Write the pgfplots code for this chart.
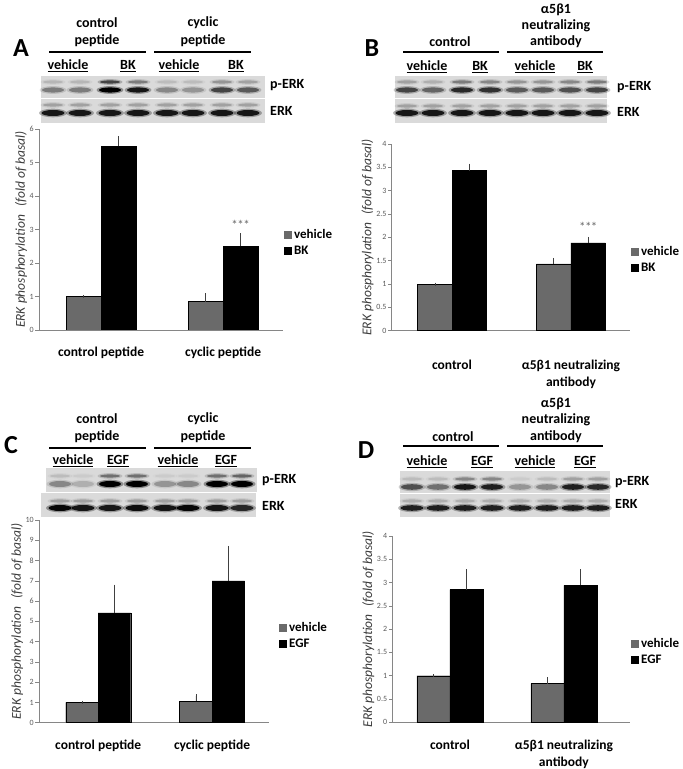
\documentclass[border=0pt]{standalone}
\usepackage{fontspec}
\setmainfont{Carlito}
\usepackage{pgfplots}
\pgfplotsset{compat=1.18}
\definecolor{vehgray}{RGB}{106,106,106}
\definecolor{axgray}{RGB}{134,134,134}
\definecolor{tickgray}{RGB}{90,90,90}
\definecolor{blotbg}{RGB}{218,218,218}
\definecolor{labgray}{RGB}{60,60,60}
\newcommand{\fs}[1]{\fontsize{#1}{#1}\selectfont}

\newcommand{\band}[5]{%
  \pgfmathsetmacro\bandA{0.35*#5}%
  \pgfmathsetmacro\rxo{#3+2.5}%
  \pgfmathsetmacro\ryo{#4+1.3}%
  \fill[black,opacity=\bandA] (#1,769-#2) ellipse (\rxo pt and \ryo pt);
  \fill[black,opacity=#5] (#1,769-#2) ellipse (#3pt and #4pt);}

\pgfplotsset{
  erk/.style={
    scale only axis, anchor=south west,
    axis x line=bottom, axis y line=left,
    axis line style={-, draw=axgray, line width=0.8pt},
    tick align=outside, major tick length=3.5pt,
    ytick style={draw=axgray, line width=0.6pt},
    xtick={0,1}, xtick style={draw=none},
    /pgf/number format/assume math mode=true,
    yticklabel style={font=\fs{8}, text=tickgray, inner sep=1.5pt},
    xticklabel style={font=\fontsize{13.5}{17}\selectfont\bfseries, align=center},
    ylabel={ERK phosphorylation\hspace{0.6em}(fold of basal)},
    ylabel style={font=\fs{13.5}\itshape, text=labgray, inner sep=1pt},
    ybar=0pt,
    legend cell align=left,
    legend style={draw=none, fill=none, font=\fs{13}\bfseries, anchor=west,
      row sep=2pt, inner sep=0pt, nodes={inner sep=2pt}},
    legend image code/.code={\path[#1,draw=none] (0pt,-4pt) rectangle (8pt,4pt);},
    error bars/y dir=plus, error bars/y explicit,
    error bars/error bar style={draw=black!75, line width=0.5pt},
    error bars/error mark options={draw=black!75, line width=0.5pt, mark size=1.5pt},
  },
  veh/.style={fill=vehgray, draw=black, line width=0.4pt},
  stim/.style={fill=black, draw=black, line width=0.4pt},
}

\begin{document}
\begin{tikzpicture}[x=1pt,y=1pt]
\useasboundingbox (0,0) rectangle (683,769);

%% ================= Panel A =================
\node[font=\fs{26}\bfseries] at (21,769-48) {A};
\begin{scope}[font=\fs{14}\bfseries]
\node at (97,769-23) {control};
\node at (97,769-40.5) {peptide};
\node at (203,769-23) {cyclic};
\node at (203,769-40.5) {peptide};
\draw[line width=2pt] (49,769-52.3) -- (146,769-52.3);
\draw[line width=2pt] (154,769-52.3) -- (251,769-52.3);
\node at (68,769-66) {\underline{vehicle}};
\node at (128,769-66) {\underline{BK}};
\node at (179,769-66) {\underline{vehicle}};
\node at (236,769-66) {\underline{BK}};
\node[anchor=west,inner sep=0] at (270,769-85) {p-ERK};
\node[anchor=west,inner sep=0] at (270,769-111) {ERK};
\end{scope}
\fill[blotbg] (41,769-76) rectangle (265,769-98.5);
\fill[blotbg] (41,769-99.5) rectangle (265,769-123);
\foreach \x/\a/\b in {53/0.35/0.12, 80/0.35/0.12, 110/1/0.6, 138/0.85/0.35, 167/0.3/0.1, 193/0.25/0.1, 222/0.6/0.25, 248/0.5/0.2}{
  \band{\x}{90}{11}{2.6}{\a}
  \band{\x}{82}{10}{1.6}{\b}
}
\foreach \x in {53,80,110,138,167,193,222,248}{
  \band{\x}{113}{11.5}{3}{0.85}
  \band{\x}{105}{10}{1.6}{0.2}
}
\begin{axis}[erk, at={(39pt,439pt)}, width=244pt, height=200.7pt,
  xmin=-0.508, xmax=1.49, ymin=0, ymax=6, ytick={0,1,...,6},
  bar width=35pt, xticklabels={control peptide, cyclic peptide},
  xticklabel style={yshift=-10pt},
  legend style={at={(1.004,0.433)}}]
\addplot[veh] coordinates {(0,1) +- (0,0) (1,0.85) +- (0,0.21)};
\addplot[stim] coordinates {(0,5.5) +- (0,0.24) (1,2.5) +- (0,0.35)};
\legend{vehicle, BK}
\node[font=\fs{13}, text=black!60] at (axis cs:1.143,3.13) {*\kern-0.5pt*\kern-0.5pt*};
\end{axis}

%% ================= Panel B =================
\node[font=\fs{26}\bfseries] at (372,769-48) {B};
\begin{scope}[font=\fs{14}\bfseries]
\node at (450,769-41.7) {control};
\node at (556,769-10) {α5β1};
\node at (556,769-25.5) {neutralizing};
\node at (556,769-41.7) {antibody};
\draw[line width=2pt] (403,769-52.3) -- (499,769-52.3);
\draw[line width=2pt] (507,769-52.3) -- (603,769-52.3);
\node at (427,769-67) {\underline{vehicle}};
\node at (480,769-67) {\underline{BK}};
\node at (535,769-67) {\underline{vehicle}};
\node at (585,769-67) {\underline{BK}};
\node[anchor=west,inner sep=0] at (617,769-87) {p-ERK};
\node[anchor=west,inner sep=0] at (617,769-112) {ERK};
\end{scope}
\fill[blotbg] (395,769-76) rectangle (607,769-98.5);
\fill[blotbg] (395,769-99.5) rectangle (607,769-123);
\foreach \x/\a/\b in {407/0.6/0.2, 433/0.45/0.15, 462/0.75/0.35, 490/0.7/0.3, 517/0.5/0.25, 543/0.5/0.25, 570/0.55/0.3, 597/0.6/0.35}{
  \band{\x}{90}{11}{2.6}{\a}
  \band{\x}{82}{10}{1.6}{\b}
}
\foreach \x in {407,433,462,490,517,543,570,597}{
  \band{\x}{113}{11.5}{3}{0.85}
  \band{\x}{106}{10}{1.6}{0.2}
}
\begin{axis}[erk, at={(391.7pt,438.3pt)}, width=238.3pt, height=186.7pt,
  xmin=-0.507, xmax=1.496, ymin=0, ymax=4, ytick={0,0.5,...,4},
  bar width=34.5pt, xticklabels={control, {α5β1 neutralizing\\antibody}},
  xticklabel style={yshift=-22pt},
  legend style={at={(1.004,0.379)}}]
\addplot[veh] coordinates {(0,1) +- (0,0) (1,1.43) +- (0,0.1)};
\addplot[stim] coordinates {(0,3.43) +- (0,0.12) (1,1.88) +- (0,0.1)};
\legend{vehicle, BK}
\node[font=\fs{13}, text=black!60] at (axis cs:1.145,2.22) {*\kern-0.5pt*\kern-0.5pt*};
\end{axis}

%% ================= Panel C =================
\node[font=\fs{26}\bfseries] at (11,769-445) {C};
\begin{scope}[font=\fs{14}\bfseries]
\node at (97,769-419) {control};
\node at (97,769-436.5) {peptide};
\node at (203,769-419) {cyclic};
\node at (203,769-436.5) {peptide};
\draw[line width=2pt] (49,769-448) -- (146,769-448);
\draw[line width=2pt] (154,769-448) -- (251,769-448);
\node at (73,769-461) {\underline{vehicle}};
\node at (118,769-461) {\underline{EGF}};
\node at (178,769-461) {\underline{vehicle}};
\node at (226,769-461) {\underline{EGF}};
\node[anchor=west,inner sep=0] at (262,769-480) {p-ERK};
\node[anchor=west,inner sep=0] at (262,769-506) {ERK};
\end{scope}
\fill[blotbg] (46,769-468) rectangle (257,769-492);
\fill[blotbg] (41,769-493) rectangle (256,769-517);
\foreach \x/\a/\b in {60/0.3/0.1, 83/0.15/0.05, 110/1/0.4, 137/1/0.4, 165/0.25/0.05, 188/0.3/0.05, 217/1/0.4, 242/1/0.45}{
  \band{\x}{484}{11}{3}{\a}
  \band{\x}{476}{10}{1.6}{\b}
}
\foreach \x/\a in {60/0.95, 83/0.85, 110/0.85, 137/0.9, 165/0.85, 188/0.95, 217/0.85, 242/0.75}{
  \band{\x}{508}{11.5}{3}{\a}
  \band{\x}{501}{10}{1.6}{0.2}
}
\begin{axis}[erk, at={(39pt,46.3pt)}, width=230pt, height=202.7pt,
  xmin=-0.52, xmax=1.5, ymin=0, ymax=10, ytick={0,1,...,10},
  bar width=32.5pt, xticklabels={control peptide, cyclic peptide},
  xticklabel style={yshift=-10pt},
  legend style={at={(1.043,0.43)}}]
\addplot[veh] coordinates {(0,1) +- (0,0) (1,1.05) +- (0,0.27)};
\addplot[stim] coordinates {(0,5.42) +- (0,1.32) (1,7.0) +- (0,1.65)};
\legend{vehicle, EGF}
\end{axis}

%% ================= Panel D =================
\node[font=\fs{26}\bfseries] at (366,769-450) {D};
\begin{scope}[font=\fs{14}\bfseries]
\node at (453,769-437) {control};
\node at (556,769-404) {α5β1};
\node at (556,769-420) {neutralizing};
\node at (556,769-437) {antibody};
\draw[line width=2pt] (403,769-446) -- (499,769-446);
\draw[line width=2pt] (507,769-446) -- (603,769-446);
\node at (427,769-462) {\underline{vehicle}};
\node at (482,769-462) {\underline{EGF}};
\node at (535,769-462) {\underline{vehicle}};
\node at (585,769-462) {\underline{EGF}};
\node[anchor=west,inner sep=0] at (615,769-482) {p-ERK};
\node[anchor=west,inner sep=0] at (615,769-504) {ERK};
\end{scope}
\fill[blotbg] (400,769-471) rectangle (610,769-493);
\fill[blotbg] (400,769-494) rectangle (610,769-517);
\foreach \x/\a/\b in {412/0.55/0.1, 438/0.4/0.1, 465/0.85/0.3, 492/0.8/0.3, 520/0.25/0.05, 547/0.3/0.1, 573/0.8/0.2, 598/0.75/0.2}{
  \band{\x}{487}{11}{2.8}{\a}
  \band{\x}{479}{10}{1.6}{\b}
}
\foreach \x in {412,438,465,492,520,547,573,598}{
  \band{\x}{508}{11.5}{2.8}{0.8}
  \band{\x}{501}{10}{1.6}{0.15}
}
\begin{axis}[erk, at={(392.3pt,46.7pt)}, width=237.7pt, height=186.3pt,
  xmin=-0.506, xmax=1.58, ymin=0, ymax=4, ytick={0,0.5,...,4},
  bar width=33pt, xticklabels={control, {α5β1 neutralizing\\antibody}},
  xticklabel style={yshift=-10.5pt},
  legend style={at={(1.004,0.377)}}]
\addplot[veh] coordinates {(0,1) +- (0,0) (1,0.83) +- (0,0.1)};
\addplot[stim] coordinates {(0,2.85) +- (0,0.4) (1,2.94) +- (0,0.31)};
\legend{vehicle, EGF}
\end{axis}
\end{tikzpicture}
\end{document}
